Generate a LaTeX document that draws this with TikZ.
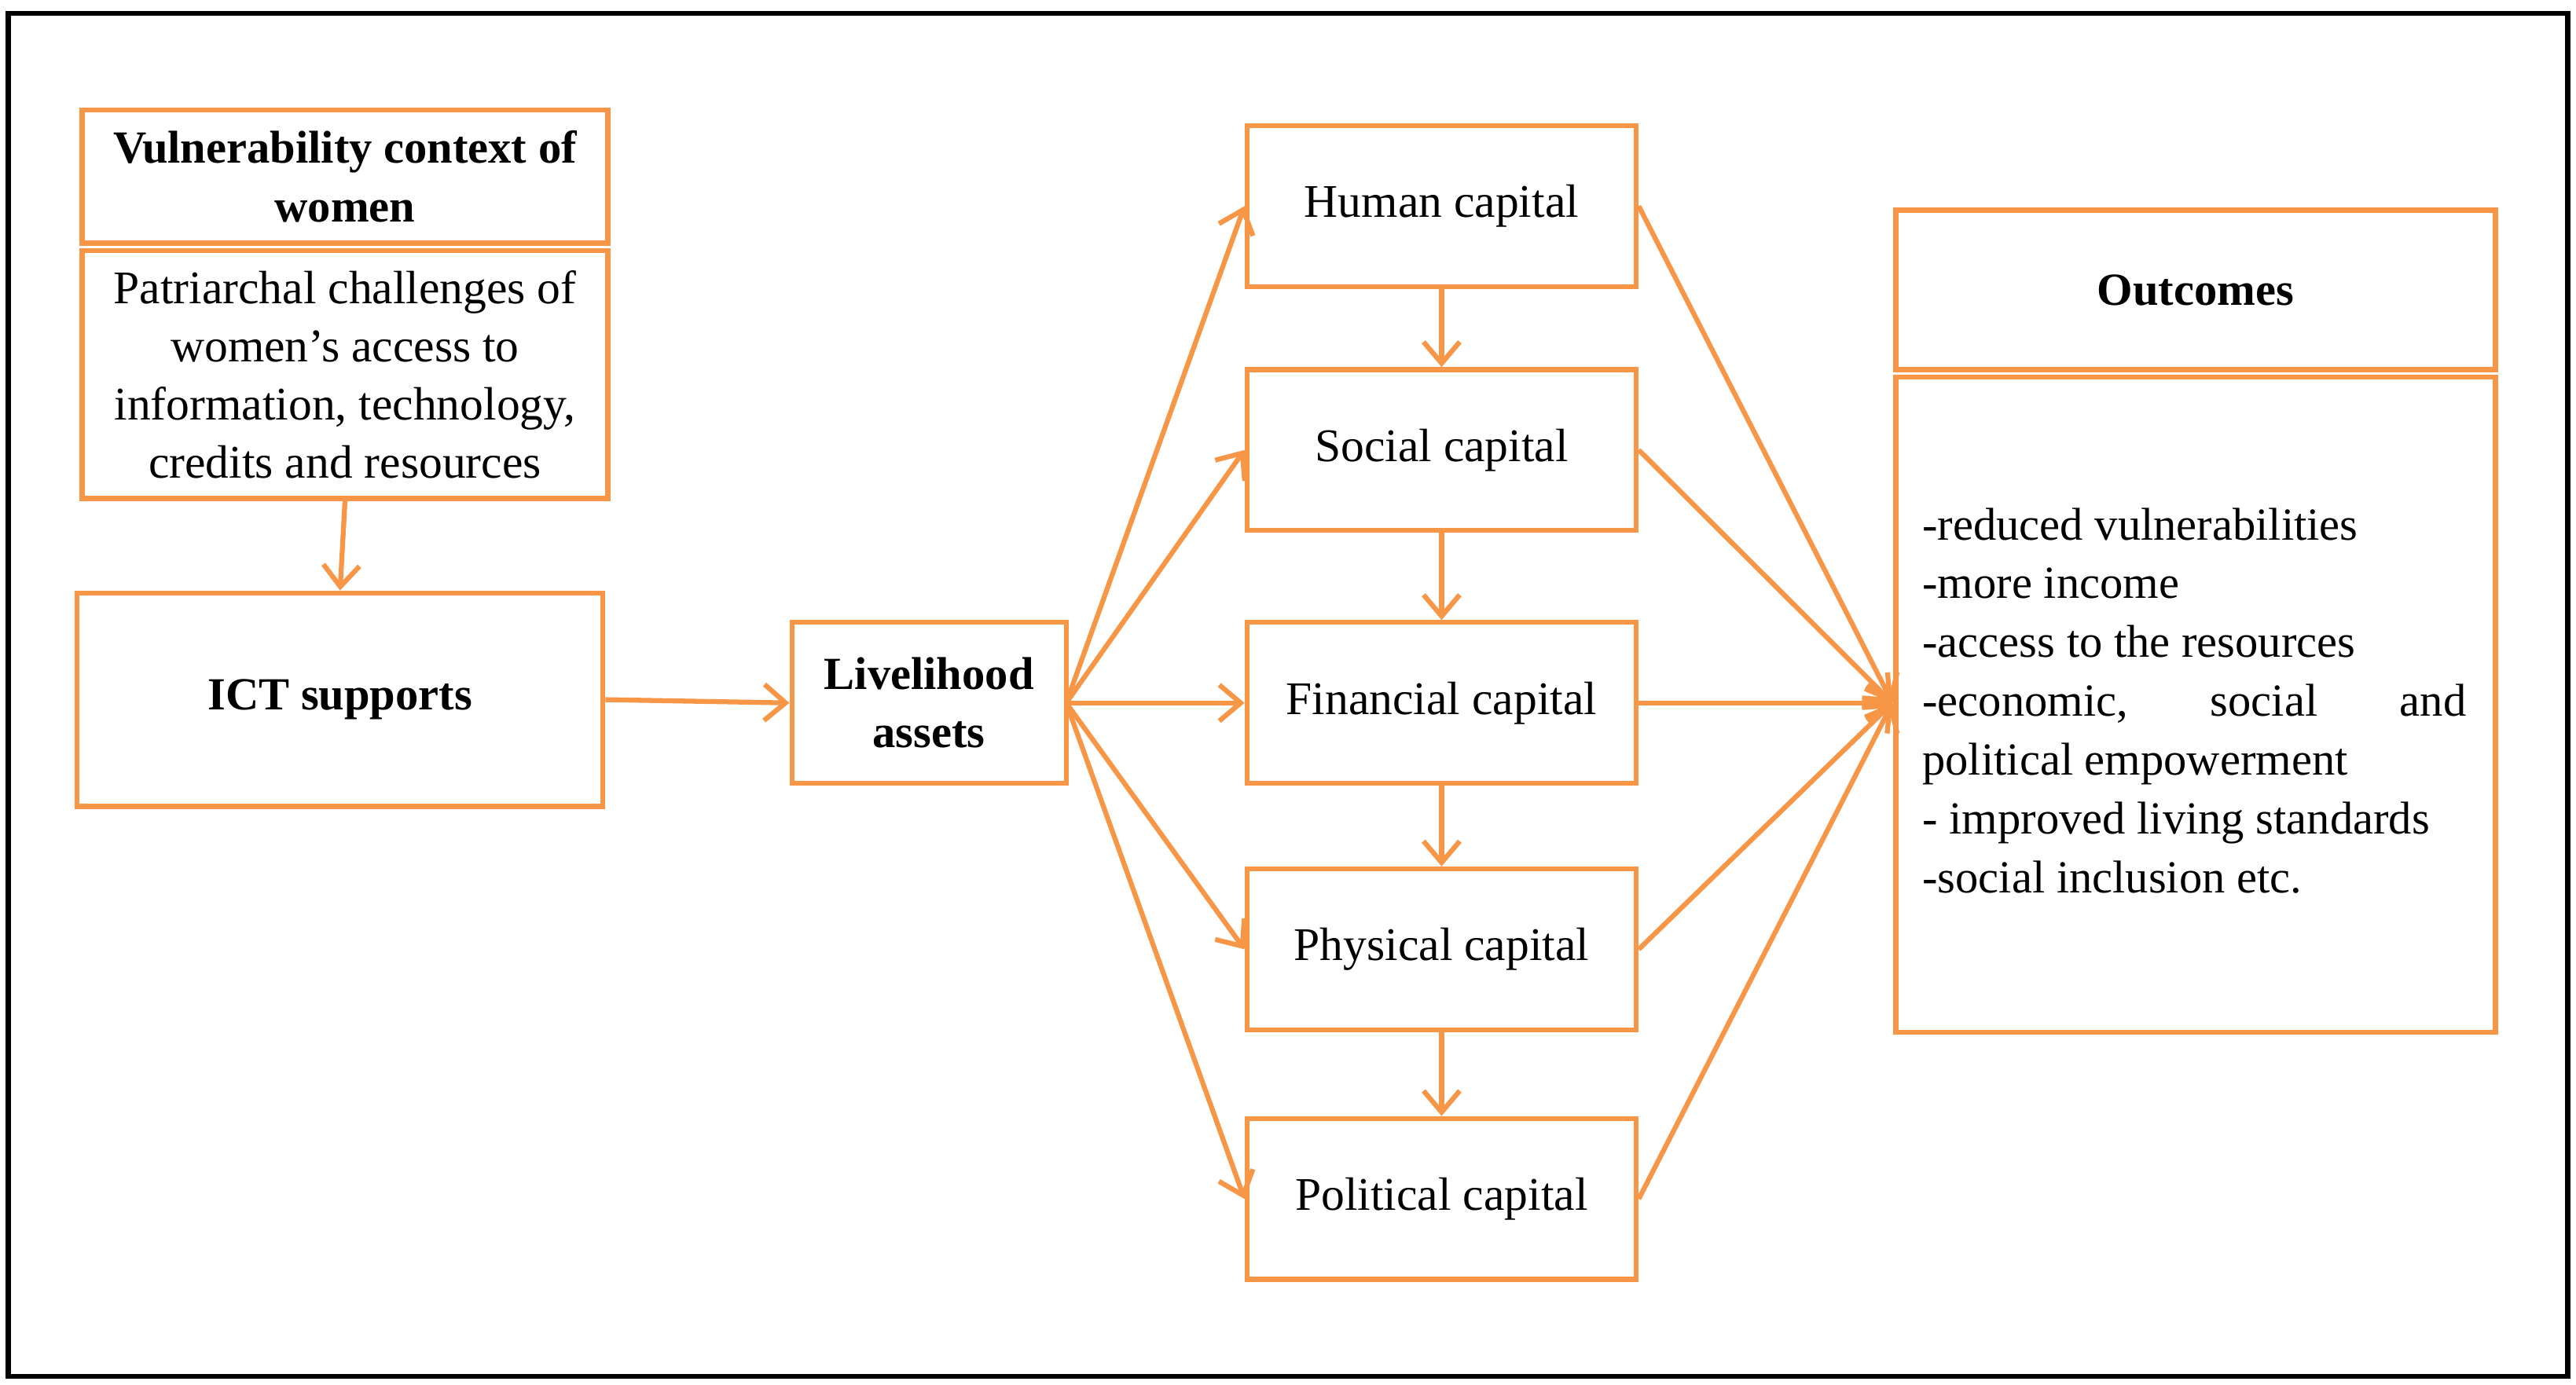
\documentclass[tikz,border=0pt]{standalone}
\usepackage{fontspec}
\setmainfont{Liberation Serif}
\usetikzlibrary{arrows.meta}
\definecolor{org}{HTML}{F79646}
\begin{document}
\begin{tikzpicture}[x=1pt,y=-1pt,
  box/.style={draw=org,line width=3pt,inner sep=0pt,align=center,font=\fontsize{28.5}{35.5}\selectfont},
  bbox/.style={box,font=\fontsize{28}{35.5}\selectfont\bfseries},
  capbox/.style={box,minimum width=237pt,minimum height=98pt},
  arr/.style={draw=org,line width=3pt,-{Straight Barb[length=13pt,width=22pt,line width=3pt]}}]
\useasboundingbox (0,0) rectangle (1568,843);
\draw[line width=3pt] (5,8) rectangle (1563,838);
\node[bbox,minimum width=320pt,minimum height=81pt] (vt) at (210,107.5) {Vulnerability context of\\women};
\node[box,minimum width=320pt,minimum height=151pt,anchor=north] (vb) at ([yshift=-1.5pt]vt.south) {Patriarchal challenges of\\women’s access to\\information, technology,\\credits and resources};
\node[bbox,minimum width=320pt,minimum height=130pt] (ict) at (207,426) {ICT supports};
\node[bbox,minimum width=167pt,minimum height=98pt] (la) at (565.5,428) {Livelihood\\assets};
\node[capbox] (hc) at (877.5,125.5) {Human capital};
\node[capbox] (sc) at (877.5,274) {Social capital};
\node[capbox] (fc) at (877.5,428) {Financial capital};
\node[capbox] (pc) at (877.5,578) {Physical capital};
\node[capbox] (po) at (877.5,730) {Political capital};
\node[bbox,minimum width=365pt,minimum height=97pt] (ot) at (1336.5,176.5) {Outcomes};
\node[box,minimum width=365pt,minimum height=399pt,anchor=north] (ob) at ([yshift=-1.5pt]ot.south) {};
\node[font=\fontsize{28}{35.8}\selectfont,align=left,anchor=north west,inner sep=0pt] (otx) at (1170,309) {-reduced vulnerabilities\\-more income\\-access to the resources\\\hbox to 331pt{-economic,\hfill social\hfill and}\\political empowerment\\- improved living standards\\-social inclusion etc.};
\coordinate (hub) at (1152,428);
\coordinate (lae) at (649,428);
\draw[arr] (vb.south) -- (ict.north);
\draw[arr] (ict.east) -- (la.west);
\draw[arr] (lae) -- (hc.west);
\draw[arr] (lae) -- (sc.west);
\draw[arr] (lae) -- (fc.west);
\draw[arr] (lae) -- (pc.west);
\draw[arr] (lae) -- (po.west);
\draw[arr] (hc.south) -- (sc.north);
\draw[arr] (sc.south) -- (fc.north);
\draw[arr] (fc.south) -- (pc.north);
\draw[arr] (pc.south) -- (po.north);
\draw[arr] (hc.east) -- (hub);
\draw[arr] (sc.east) -- (hub);
\draw[arr] (fc.east) -- (hub);
\draw[arr] (pc.east) -- (hub);
\draw[arr] (po.east) -- (hub);
\end{tikzpicture}
\end{document}
